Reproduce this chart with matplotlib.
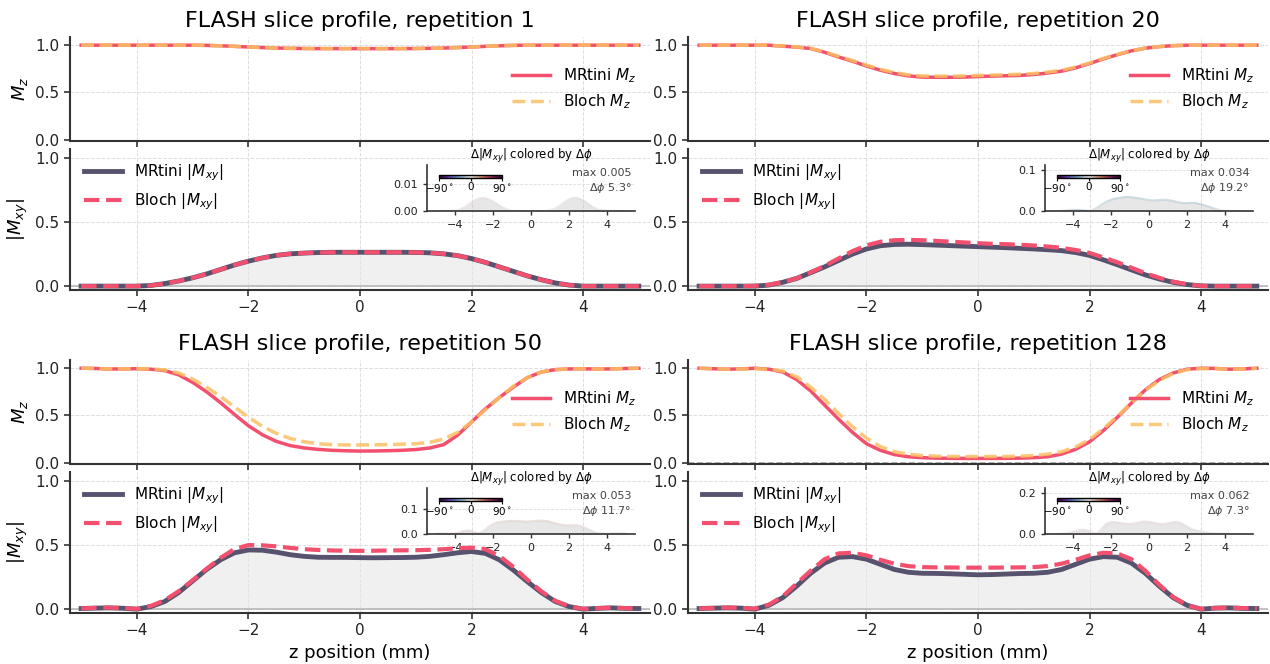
import numpy as np
import matplotlib.pyplot as plt
from matplotlib.collections import LineCollection
import matplotlib.colors as mcolors

# z positions (mm)
z = [-5.0, -4.75, -4.5, -4.25, -4.0, -3.75, -3.5, -3.25, -3.0, -2.75, -2.5,
     -2.25, -2.0, -1.75, -1.5, -1.25, -1.0, -0.75, -0.5, -0.25, 0.0,
     0.25, 0.5, 0.75, 1.0, 1.25, 1.5, 1.75, 2.0, 2.25, 2.5,
     2.75, 3.0, 3.25, 3.5, 3.75, 4.0, 4.25, 4.5, 4.75, 5.0]

repetitions = [1, 20, 50, 128]

# longitudinal magnetisation
mz_mrtini = [
    [1.0, 1.0, 1.0, 1.0, 1.0, 1.0, 1.0, 1.0, 1.0, 0.998, 0.994, 0.988, 0.981, 0.975, 0.97, 0.967,
     0.965, 0.964, 0.964, 0.964, 0.964, 0.964, 0.964, 0.964, 0.965, 0.967, 0.97, 0.975, 0.981,
     0.988, 0.994, 0.998, 1.0, 1.0, 1.0, 1.0, 1.0, 1.0, 1.0, 1.0, 1.0],
    [1.0, 1.0, 1.0, 1.0, 1.0, 1.0, 0.99, 0.98, 0.965, 0.925, 0.875, 0.83, 0.78, 0.735, 0.70, 0.675,
     0.662, 0.66, 0.66, 0.662, 0.668, 0.672, 0.676, 0.68, 0.69, 0.705, 0.725, 0.76, 0.805, 0.855,
     0.9, 0.94, 0.968, 0.985, 0.995, 1.0, 1.0, 1.0, 1.0, 1.0, 1.0],
    [1.0, 0.998, 0.992, 0.993, 0.995, 0.99, 0.975, 0.93, 0.85, 0.75, 0.635, 0.51, 0.39, 0.295, 0.225,
     0.18, 0.155, 0.14, 0.13, 0.125, 0.122, 0.123, 0.126, 0.13, 0.138, 0.155, 0.19, 0.29, 0.43,
     0.57, 0.69, 0.8, 0.9, 0.96, 0.985, 0.993, 0.994, 0.992, 0.993, 0.997, 1.0],
    [1.0, 0.995, 0.99, 0.993, 1.0, 0.99, 0.96, 0.88, 0.76, 0.61, 0.46, 0.32, 0.2, 0.13, 0.085, 0.062,
     0.052, 0.047, 0.045, 0.044, 0.044, 0.044, 0.045, 0.047, 0.052, 0.062, 0.09, 0.14, 0.22, 0.34,
     0.48, 0.63, 0.77, 0.88, 0.95, 0.99, 1.0, 0.998, 0.99, 0.993, 1.0],
]
mz_bloch = [
    [1.0, 1.0, 1.0, 1.0, 1.0, 1.0, 1.0, 1.0, 1.0, 0.998, 0.994, 0.988, 0.981, 0.975, 0.97, 0.967,
     0.965, 0.964, 0.964, 0.964, 0.964, 0.964, 0.964, 0.964, 0.965, 0.967, 0.97, 0.975, 0.981,
     0.988, 0.994, 0.998, 1.0, 1.0, 1.0, 1.0, 1.0, 1.0, 1.0, 1.0, 1.0],
    [1.0, 1.0, 1.0, 1.0, 1.0, 1.0, 0.992, 0.982, 0.968, 0.93, 0.882, 0.838, 0.79, 0.745, 0.71, 0.686,
     0.674, 0.672, 0.672, 0.674, 0.679, 0.683, 0.687, 0.692, 0.70, 0.715, 0.735, 0.768, 0.812, 0.86,
     0.903, 0.942, 0.969, 0.986, 0.995, 1.0, 1.0, 1.0, 1.0, 1.0, 1.0],
    [1.0, 0.998, 0.993, 0.994, 0.996, 0.993, 0.982, 0.95, 0.885, 0.8, 0.7, 0.59, 0.48, 0.385, 0.31,
     0.255, 0.22, 0.2, 0.19, 0.187, 0.187, 0.188, 0.19, 0.195, 0.2, 0.215, 0.25, 0.32, 0.43, 0.56,
     0.69, 0.81, 0.9, 0.96, 0.985, 0.993, 0.994, 0.992, 0.993, 0.997, 1.0],
    [1.0, 0.995, 0.99, 0.992, 0.996, 0.99, 0.97, 0.91, 0.8, 0.67, 0.52, 0.38, 0.26, 0.17, 0.115, 0.088,
     0.074, 0.068, 0.065, 0.064, 0.064, 0.064, 0.065, 0.068, 0.075, 0.09, 0.115, 0.165, 0.245, 0.36,
     0.49, 0.63, 0.765, 0.87, 0.945, 0.985, 0.996, 0.997, 0.99, 0.993, 1.0],
]

# transverse magnetisation magnitude
mxy_mrtini = [
    [0.0, 0.0, 0.0, 0.0, 0.0, 0.005, 0.02, 0.04, 0.065, 0.095, 0.13, 0.165, 0.195, 0.22, 0.24, 0.252,
     0.258, 0.262, 0.264, 0.264, 0.264, 0.264, 0.264, 0.264, 0.263, 0.26, 0.252, 0.238, 0.215, 0.185,
     0.15, 0.115, 0.08, 0.05, 0.025, 0.008, 0.0, 0.0, 0.0, 0.0, 0.0],
    [0.0, 0.0, 0.0, 0.0, 0.0, 0.008, 0.03, 0.06, 0.105, 0.15, 0.2, 0.25, 0.29, 0.315, 0.325, 0.327,
     0.324, 0.32, 0.316, 0.312, 0.308, 0.304, 0.3, 0.295, 0.29, 0.284, 0.277, 0.262, 0.24, 0.205,
     0.167, 0.127, 0.088, 0.056, 0.03, 0.012, 0.002, 0.0, 0.0, 0.0, 0.0],
    [0.005, 0.008, 0.01, 0.007, 0.0, 0.02, 0.06, 0.13, 0.22, 0.31, 0.385, 0.44, 0.462, 0.46, 0.445,
     0.425, 0.412, 0.405, 0.404, 0.404, 0.402, 0.401, 0.402, 0.403, 0.405, 0.412, 0.425, 0.44, 0.45,
     0.435, 0.385, 0.305, 0.215, 0.13, 0.06, 0.02, 0.0, 0.006, 0.01, 0.006, 0.005],
    [0.005, 0.008, 0.01, 0.008, 0.0, 0.03, 0.09, 0.18, 0.28, 0.36, 0.405, 0.41, 0.39, 0.35, 0.31,
     0.288, 0.28, 0.279, 0.276, 0.272, 0.268, 0.27, 0.274, 0.278, 0.28, 0.288, 0.31, 0.35, 0.39,
     0.41, 0.405, 0.36, 0.28, 0.18, 0.09, 0.03, 0.0, 0.008, 0.01, 0.006, 0.005],
]
mxy_bloch = [
    [0.0, 0.0, 0.0, 0.0, 0.0, 0.005, 0.02, 0.04, 0.065, 0.095, 0.13, 0.165, 0.195, 0.22, 0.24, 0.252,
     0.258, 0.262, 0.264, 0.264, 0.264, 0.264, 0.264, 0.264, 0.263, 0.26, 0.252, 0.238, 0.215, 0.185,
     0.15, 0.115, 0.08, 0.05, 0.025, 0.008, 0.0, 0.0, 0.0, 0.0, 0.0],
    [0.0, 0.0, 0.0, 0.0, 0.002, 0.01, 0.031, 0.061, 0.107, 0.158, 0.216, 0.273, 0.318, 0.346, 0.358,
     0.361, 0.358, 0.353, 0.347, 0.341, 0.335, 0.33, 0.327, 0.323, 0.317, 0.309, 0.299, 0.282, 0.259,
     0.224, 0.186, 0.144, 0.101, 0.065, 0.035, 0.014, 0.002, 0.0, 0.0, 0.0, 0.0],
    [0.006, 0.01, 0.012, 0.008, 0.002, 0.025, 0.07, 0.14, 0.225, 0.315, 0.4, 0.47, 0.5, 0.498, 0.49,
     0.478, 0.468, 0.462, 0.458, 0.456, 0.455, 0.456, 0.458, 0.459, 0.46, 0.463, 0.468, 0.475, 0.48,
     0.468, 0.415, 0.33, 0.23, 0.14, 0.065, 0.022, 0.002, 0.007, 0.012, 0.008, 0.006],
    [0.006, 0.009, 0.012, 0.01, 0.004, 0.035, 0.1, 0.2, 0.3, 0.39, 0.435, 0.44, 0.42, 0.385, 0.355,
     0.336, 0.328, 0.326, 0.325, 0.324, 0.324, 0.324, 0.325, 0.326, 0.328, 0.336, 0.355, 0.385, 0.42,
     0.44, 0.435, 0.39, 0.3, 0.19, 0.095, 0.03, 0.002, 0.009, 0.012, 0.008, 0.006],
]

# inset: |Mxy| difference and phase difference (deg)
dmxy = [
    [0.0, 0.0, 0.0001, 0.0001, 0.0002, 0.0006, 0.0014, 0.0026, 0.0038, 0.0046, 0.0048, 0.0044, 0.0035,
     0.0024, 0.0013, 0.0005, 0.0001, 0.0, 0.0, 0.0, 0.0, 0.0, 0.0, 0.0, 0.0003, 0.0009, 0.0019, 0.0032,
     0.0043, 0.0049, 0.0047, 0.0039, 0.0027, 0.0015, 0.0006, 0.0002, 0.0001, 0.0, 0.0, 0.0, 0.0],
    [0.0, 0.0, 0.001, 0.002, 0.003, 0.003, 0.002, 0.001, 0.002, 0.008, 0.016, 0.023, 0.028, 0.031,
     0.033, 0.034, 0.034, 0.033, 0.031, 0.029, 0.027, 0.026, 0.027, 0.028, 0.027, 0.025, 0.022, 0.02,
     0.019, 0.019, 0.019, 0.017, 0.013, 0.009, 0.005, 0.002, 0.0, 0.0, 0.0, 0.0, 0.0],
    [0.002, 0.003, 0.002, 0.001, 0.002, 0.007, 0.013, 0.014, 0.008, 0.003, 0.012, 0.028, 0.04, 0.046,
     0.049, 0.051, 0.052, 0.051, 0.05, 0.049, 0.05, 0.052, 0.053, 0.052, 0.048, 0.043, 0.038, 0.035,
     0.034, 0.035, 0.034, 0.028, 0.019, 0.01, 0.004, 0.002, 0.001, 0.002, 0.003, 0.002, 0.003],
    [0.001, 0.001, 0.002, 0.006, 0.012, 0.018, 0.021, 0.018, 0.008, 0.004, 0.025, 0.05, 0.059, 0.058,
     0.054, 0.05, 0.049, 0.052, 0.058, 0.062, 0.06, 0.055, 0.05, 0.049, 0.053, 0.058, 0.059, 0.05,
     0.035, 0.024, 0.017, 0.012, 0.009, 0.006, 0.004, 0.003, 0.002, 0.001, 0.001, 0.0, 0.0],
]
dphi = [
    [0, 0, 1, 1, 2, 3, 4, 5, 5, 5, 5, 5, 4, 4, 3, 2, 1, 0, 0, 0, 0, 0, 0, 0, 1, 2, 3, 4, 5, 5,
     5, 5, 5, 4, 3, 2, 1, 1, 0, 0, 0],
    [-5, -8, -12, -15, -17, -18, -16, -12, -10, -12, -15, -17, -18, -19, -19, -19, -18, -18, -17, -17,
     -16, -16, -16, -16, -17, -17, -18, -18, -19, -19, -19, -18, -17, -16, -15, -13, -10, -6, -3, -2, -1],
    [3, 5, 8, 10, 11, 11, 10, 9, 8, 7, 7, 8, 9, 10, 10, 11, 11, 11, 11, 11, 11, 11, 11, 11, 11, 10,
     10, 9, 9, 9, 8, 8, 7, 7, 6, 6, 7, 8, 9, 10, 11],
    [2, 3, 4, 5, 6, 7, 7, 6, 5, 5, 6, 6, 7, 7, 7, 7, 7, 7, 7, 7, 7, 7, 7, 7, 7, 7, 7, 7, 6, 6,
     5, 5, 4, 4, 3, 3, 3, 2, 2, 2, 2],
]
max_dphi = ['5.3', '19.2', '11.7', '7.3']
inset_ytop = [0.0168, 0.113, 0.18, 0.223]
inset_yticks = [[0.0, 0.01], [0.0, 0.1], [0.0, 0.1], [0.0, 0.2]]
inset_yticklabels = [['0.00', '0.01'], ['0.0', '0.1'], ['0.0', '0.1'], ['0.0', '0.2']]

c_mrt_mz = '#f2506e'
c_bloch_mz = '#fcbf62'
c_mrt_mxy = '#57536e'
c_bloch_mxy = '#f2506e'
spine_c = '#333333'
cmap = plt.get_cmap('twilight_shifted')
norm = mcolors.Normalize(-90, 90)


def style(ax):
    ax.spines['top'].set_visible(False)
    ax.spines['right'].set_visible(False)
    for s in ['left', 'bottom']:
        ax.spines[s].set_color(spine_c)
        ax.spines[s].set_linewidth(1.5)
    ax.tick_params(colors=spine_c, labelcolor='#222222', width=1.2, length=4, labelsize=11)
    ax.grid(True, ls='--', lw=0.7, color='#dddddd')
    ax.set_xlim(-5.2, 5.2)
    ax.set_xticks([-4, -2, 0, 2, 4])
    ax.set_yticks([0.0, 0.5, 1.0])
    ax.set_facecolor('none')


fig = plt.figure(figsize=(12.7, 6.64), dpi=100)

lefts = [0.0551, 0.5417, 0.0551, 0.5417]
mz_bottoms = [0.7877, 0.7877, 0.3012, 0.3012]
mxy_bottoms = [0.5633, 0.5633, 0.0768, 0.0768]
w = 0.4567

for i, rep in enumerate(repetitions):
    ax_mz = fig.add_axes([lefts[i], mz_bottoms[i], w, 0.157])
    ax_xy = fig.add_axes([lefts[i], mxy_bottoms[i], w, 0.2123])
    style(ax_mz)
    style(ax_xy)

    # Mz panel
    ax_mz.plot(z, mz_mrtini[i], color=c_mrt_mz, lw=2.5, label='MRtini $M_z$', zorder=3)
    ax_mz.plot(z, mz_bloch[i], color=c_bloch_mz, lw=2.5, ls='--', alpha=0.85,
               label='Bloch $M_z$', zorder=4)
    if min(mz_mrtini[i]) < 0.1:
        ax_mz.axhline(0, color='gray', ls='--', lw=1.2, alpha=0.7, zorder=2)
    ax_mz.set_ylim(-0.015, 1.09)
    ax_mz.tick_params(labelbottom=False)
    ax_mz.legend(loc='center right', bbox_to_anchor=(1.0, 0.5), frameon=False, fontsize=11,
                 handlelength=2.5)
    ax_mz.set_title(f'FLASH slice profile, repetition {rep}', fontsize=16, pad=7)

    # |Mxy| panel
    ax_xy.fill_between(z, 0, mxy_mrtini[i], color='#e6e6e6', alpha=0.6, lw=0, zorder=1.9)
    ax_xy.axhline(0, color='#aaaaaa', lw=1.2, alpha=0.8, zorder=2)
    ax_xy.plot(z, mxy_mrtini[i], color=c_mrt_mxy, lw=3.5, label='MRtini $|M_{xy}|$', zorder=3)
    ax_xy.plot(z, mxy_bloch[i], color=c_bloch_mxy, lw=3, ls='--', label='Bloch $|M_{xy}|$', zorder=4)
    ax_xy.set_ylim(-0.03, 1.07)
    ax_xy.legend(loc='upper left', frameon=False, fontsize=11, handlelength=2.5)

    if i % 2 == 0:
        ax_mz.set_ylabel('$M_z$', fontsize=13)
        ax_xy.set_ylabel('$|M_{xy}|$', fontsize=13)
    if i >= 2:
        ax_xy.set_xlabel('z position (mm)', fontsize=13)

    # inset: difference colored by phase
    ins = ax_xy.inset_axes([0.615, 0.56, 0.36, 0.325])
    ins.set_zorder(1.95)
    ins.set_facecolor('none')
    d = np.array(dmxy[i])
    zz = np.array(z)
    ins.fill_between(zz, 0, d, color='#bbbbbb', alpha=0.35, lw=0)
    pts = np.column_stack([zz, d]).reshape(-1, 1, 2)
    segs = np.concatenate([pts[:-1], pts[1:]], axis=1)
    ph = np.array(dphi[i], dtype=float)
    lc = LineCollection(segs, cmap=cmap, norm=norm, lw=1.5, alpha=0.55)
    lc.set_array(0.5 * (ph[:-1] + ph[1:]))
    ins.add_collection(lc)
    ins.set_xlim(-5.5, 5.5)
    ins.set_ylim(0, inset_ytop[i])
    ins.set_xticks([-4, -2, 0, 2, 4])
    ins.set_yticks(inset_yticks[i])
    ins.set_yticklabels(inset_yticklabels[i])
    ins.spines['top'].set_visible(False)
    ins.spines['right'].set_visible(False)
    for s in ['left', 'bottom']:
        ins.spines[s].set_color(spine_c)
        ins.spines[s].set_linewidth(1.2)
    ins.tick_params(labelsize=8, length=3, width=1, colors=spine_c, labelcolor='#222222')
    ins.grid(True, axis='y', ls='--', lw=0.6, color='#dddddd')
    ins.set_title(r'$\Delta|M_{xy}|$ colored by $\Delta\phi$', fontsize=8.5, pad=2)
    ins.text(0.98, 0.93, f'max {d.max():.3f}\n$\\Delta\\phi$ {max_dphi[i]}°', transform=ins.transAxes,
             ha='right', va='top', fontsize=8, color='#444444', linespacing=1.3)

    cax = ins.inset_axes([0.06, 0.72, 0.3, 0.07])
    sm = plt.cm.ScalarMappable(cmap=cmap, norm=norm)
    cb = fig.colorbar(sm, cax=cax, orientation='horizontal', ticks=[-90, 0, 90])
    cb.ax.set_xticklabels(['−90$^\\circ$', '0', '90$^\\circ$'])
    cb.ax.tick_params(labelsize=7.5, length=2, width=0.8, pad=1)
    cb.outline.set_linewidth(1)

fig.savefig('out.png', dpi=100)
